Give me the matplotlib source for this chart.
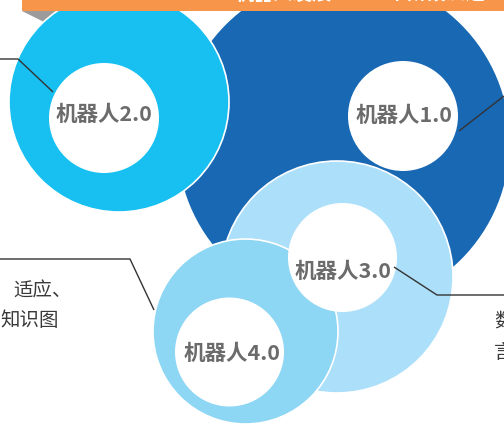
import matplotlib
matplotlib.use("Agg")
import matplotlib.pyplot as plt
from matplotlib.patches import Circle, Polygon, Rectangle

plt.rcParams['font.family'] = ['Noto Sans CJK SC', 'DejaVu Sans']

# stages of the diagram (drawing order: 1.0, 2.0, 3.0, 4.0)
labels = ["机器人1.0", "机器人2.0", "机器人3.0", "机器人4.0"]
ring_colors = ["#1868B4", "#17C0F1", "#ACDFF9", "#8DD6F4"]

# outer circles (pixel coords, y downwards)
outer_x = [343.5, 119, 337, 245.5]
outer_y = [142, 102, 277, 331.5]
outer_r = [167, 110, 116, 92.5]

# inner white discs
inner_x = [403, 104, 342.5, 229.5]
inner_y = [116, 118, 257.5, 352]
inner_r = [55, 55, 54.5, 54.5]

# label anchor points
label_x = [404, 104, 343, 232]
label_y = [115, 114, 272, 353]

# leader lines
leaders = [
    ([0, 18, 53], [59, 59, 92]),
    ([459, 504], [131, 96]),
    ([0, 130, 154], [259, 259, 310]),
    ([394, 437, 504], [267, 295, 295]),
]

# side captions (cropped in the source)
side_text = [
    (13, 291, "适应、"),
    (0, 320, "知识图"),
    (494, 322, "数"),
    (494, 352, "言"),
]

fig = plt.figure(figsize=(5.04, 4.25), dpi=100)
ax = fig.add_axes([0, 0, 1, 1])
ax.set_xlim(0, 504)
ax.set_ylim(425, 0)
ax.axis("off")

for i in range(4):
    ax.add_patch(Circle((outer_x[i], outer_y[i]), outer_r[i],
                        facecolor=ring_colors[i], edgecolor="white",
                        linewidth=1.2, zorder=2 + i))

for i in range(4):
    ax.add_patch(Circle((inner_x[i], inner_y[i]), inner_r[i],
                        facecolor="white", edgecolor="none", zorder=8))
    ax.text(label_x[i], label_y[i], labels[i], ha="center", va="center",
            fontsize=15.5, fontweight="bold", color="#6b6b6b", zorder=9)

for xs, ys in leaders:
    ax.plot(xs, ys, color="#333333", linewidth=1.0, zorder=10,
            solid_capstyle="butt")

for x, y, s in side_text:
    ax.text(x, y, s, ha="left", va="center", fontsize=14, color="#3a3a3a",
            zorder=10)

# orange title band with its fold, title mostly cut off
ax.add_patch(Rectangle((22, -5), 490, 16, facecolor="#F7964A",
                       edgecolor="none", zorder=11))
ax.add_patch(Polygon([[22, 11], [65, 11], [48, 24]], closed=True,
                     facecolor="#9B9B9B", edgecolor="none", zorder=1))
ax.text(235, 3.5, "机器人发展", ha="left", va="bottom", fontsize=14,
        fontweight="bold", color="white", zorder=12)
ax.text(368, 3.5, "四个阶段演进", ha="left", va="bottom", fontsize=14,
        fontweight="bold", color="white", zorder=12)

fig.savefig("out.png", dpi=100)
